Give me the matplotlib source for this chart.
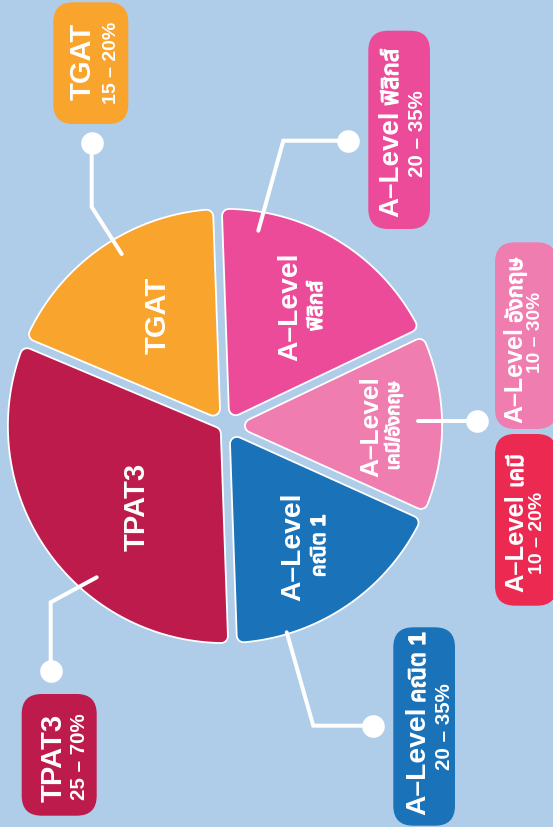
import numpy as np
import matplotlib
matplotlib.use("Agg")
import matplotlib.pyplot as plt
import matplotlib.patheffects as pe
from matplotlib import font_manager
from matplotlib.ft2font import FT2Font
from matplotlib.patches import Polygon, FancyBboxPatch

# --- Data ---
slice_titles = ["TGAT", "TPAT3", "A–Level", "A–Level", "A–Level"]
slice_subjects = ["", "", "คณิต 1", "เคมี/อังกฤษ", "ฟิสิกส์"]
shares = [65.2, 114.8, 63.7, 49.8, 66.5]
slice_colors = ["#F8A42D", "#BC1B4C", "#1A72B9", "#F07DB0", "#EC4B9A"]

box_titles = ["TGAT", "TPAT3", "A–Level", "A–Level", "A–Level", "A–Level"]
box_subjects = ["", "", "คณิต 1", "เคมี", "อังกฤษ", "ฟิสิกส์"]
box_ranges = ["15 – 20%", "25 – 70%", "20 – 35%", "10 – 20%", "10 – 30%", "20 – 35%"]
box_colors = ["#F8A42D", "#BC1B4C", "#1A72B9", "#EC2A51", "#F07DB0", "#EC4B9A"]

BG = "#AFCDE9"
W, H = 553, 828
PT = 0.72  # points per pixel at dpi 100

# --- Fonts: find something with Thai glyphs, loopless ones first ---
thai_fonts = []
for f in font_manager.fontManager.ttflist:
    try:
        if 0x0E1F in FT2Font(f.fname).get_charmap():
            thai_fonts.append(f.name)
    except Exception:
        pass
preferred = ["Noto Sans Thai", "Noto Sans Thai UI", "Loma", "Laksaman", "Garuda", "Umpush"]
thai_family = next((p for p in preferred if p in thai_fonts), thai_fonts[0] if thai_fonts else None)
families = ["Liberation Sans", "DejaVu Sans"]
if thai_family:
    families = ["Liberation Sans", thai_family, "DejaVu Sans"]
plt.rcParams["font.family"] = families
plt.rcParams["font.weight"] = "bold"

fig = plt.figure(figsize=(W / 100, H / 100), dpi=100)
fig.patch.set_facecolor(BG)
ax = fig.add_axes([0, 0, 1, 1])

# --- Pie ---
cx, cy, R = 225, 427, 218
wedges, _ = ax.pie(shares, colors=slice_colors, startangle=-92, counterclock=False,
                   radius=R, center=(cx, cy))
ax.set_xlim(0, W)
ax.set_ylim(H, 0)
ax.set_aspect("equal")
ax.axis("off")


def rounded_slice(w, gap, rc, ww):
    # shrink the wedge, then let a round-joined stroke grow it back
    t1, t2 = np.radians([w.theta1, w.theta2])
    x0, y0 = w.center
    e = gap / 2 + rc + ww
    rr = w.r - rc - ww
    mid = (t1 + t2) / 2
    apex = e / np.sin((t2 - t1) / 2)
    d = np.arcsin(e / rr)
    arc = np.linspace(t1 + d, t2 - d, 80)
    xs = np.r_[apex * np.cos(mid), rr * np.cos(arc)] + x0
    ys = np.r_[apex * np.sin(mid), rr * np.sin(arc)] + y0
    return np.column_stack([xs, ys])


gap, rc, ww = 7, 6, 1.8
for w, col in zip(wedges, slice_colors):
    w.set_visible(False)
    verts = rounded_slice(w, gap, rc, ww)
    ax.add_patch(Polygon(verts, closed=True, fc="white", ec="white",
                         lw=2 * (rc + ww) * PT, joinstyle="round", zorder=2))
    ax.add_patch(Polygon(verts, closed=True, fc=col, ec=col,
                         lw=2 * rc * PT, joinstyle="round", zorder=3))

txt = dict(color="white", rotation=90, rotation_mode="anchor", va="baseline", zorder=6)
# the Thai face only comes in regular weight, so fatten it a little
thai_bold = [pe.withStroke(linewidth=0.9, foreground="white")]

# slice labels: (title baseline x, centre y, size), (subject baseline x, size)
slice_title_pos = [(166, 315, 21), (145, 507, 21), (300, 547, 20.3), (378, 427, 19), (297, 307, 20.3)]
slice_sub_pos = [None, None, (325, 15), (399, 13.5), (322, 15)]
for t, s, tp, sp in zip(slice_titles, slice_subjects, slice_title_pos, slice_sub_pos):
    ax.text(tp[0], tp[1], t, fontsize=tp[2], ha="center", **txt)
    if sp:
        ax.text(sp[0], tp[1], s, fontsize=sp[1], ha="center", path_effects=thai_bold, **txt)

# --- Callout lines and dots ---
callout_paths = [
    [(91.7, 144), (91.7, 208), (121.7, 255)],
    [(50.7, 671.7), (50.7, 603.3), (96.7, 578.3)],
    [(373.3, 726.7), (313.3, 726.7), (286.7, 633.3)],
    [(476.7, 422.3), (418.3, 422.3)],
    [(348.3, 141.7), (283.3, 141.7), (258.3, 231.7)],
]
for path in callout_paths:
    xs, ys = zip(*path)
    ax.plot(xs, ys, color="white", lw=4 * PT, solid_capstyle="round",
            solid_joinstyle="miter", zorder=4)
    ax.plot(xs[0], ys[0], "o", color="white", ms=22.6 * PT, mec="none", zorder=5)

# --- Boxes ---
box_rects = [
    (53.3, 3.3, 128.3, 125),
    (21.7, 695, 96.7, 816.7),
    (393.3, 628.3, 455, 826.7),
    (495, 435, 557, 606.7),
    (495, 243.3, 557, 430),
    (368.3, 31.7, 430, 230),
]
# title: (baseline x, y, size, anchored at start?)  subject: (start y, size)  range: (baseline x, centre y, size)
box_title_pos = [(91, 61.7, 21, False), (61.7, 757.5, 21, False), (425, 815, 20.3, True),
                 (523, 591.7, 18.4, True), (522, 423, 18, True), (398, 216.7, 20, True)]
box_sub_pos = [None, None, (704, 17), (489, 16), (324, 16), (107, 17)]
box_range_pos = [(116, 62.5, 14), (85, 756.7, 14.8), (450, 726.7, 14.8),
                 (541.5, 533.3, 14), (540, 332.5, 13.8), (423, 133.3, 14.8)]

for rect, col, t, s, r, tp, sp, rp in zip(box_rects, box_colors, box_titles, box_subjects,
                                          box_ranges, box_title_pos, box_sub_pos, box_range_pos):
    x0, y0, x1, y1 = rect
    ax.add_patch(FancyBboxPatch((x0, y0), x1 - x0, y1 - y0,
                                boxstyle="round,pad=0,rounding_size=20",
                                fc=col, ec="none", zorder=4))
    ax.text(tp[0], tp[1], t, fontsize=tp[2], ha="left" if tp[3] else "center", **txt)
    if sp:
        ax.text(tp[0], sp[0], s, fontsize=sp[1], ha="left", path_effects=thai_bold, **txt)
    ax.text(rp[0], rp[1], r, fontsize=rp[2], ha="center", **txt)

fig.savefig("out.png", dpi=100, facecolor=BG)
